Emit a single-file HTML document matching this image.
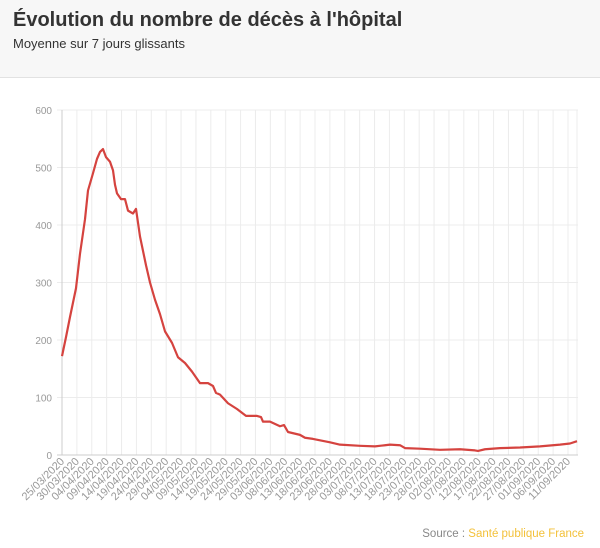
<!DOCTYPE html>
<html><head><meta charset="utf-8"><style>
body{margin:0;width:600px;height:548px;background:#fff;font-family:"Liberation Sans",sans-serif;overflow:hidden}
.hd{position:absolute;left:0;top:0;width:600px;height:77px;background:#f7f7f7;border-bottom:1px solid #e2e2e2}
.t{position:absolute;left:13px;top:9px;font-size:20px;font-weight:bold;color:#333}
.s{position:absolute;left:13px;top:36px;font-size:13px;color:#333}
svg{position:absolute;left:0;top:0}
</style></head><body>
<div class="hd"><div class="t">Évolution du nombre de décès à l'hôpital</div><div class="s">Moyenne sur 7 jours glissants</div></div>
<svg width="600" height="548" id="sv"></svg>
<script>
var s='',ns=document.getElementById('sv');
var X0=62,dx=506/34;
for(var i=0;i<=34;i++){var x=X0+i*dx;s+='<line x1="'+x+'" y1="110" x2="'+x+'" y2="455" stroke="#ececec"/>';}
s+='<line x1="577" y1="110" x2="577" y2="455" stroke="#ececec"/>';
for(var v=0;v<=600;v+=100){var y=455-v*0.575;s+='<line x1="57" y1="'+y+'" x2="578" y2="'+y+'" stroke="'+(v?'#ececec':'#ccc')+'"/><text x="52" y="'+(y+4)+'" text-anchor="end" font-size="10" fill="#999">'+v+'</text>';}
s+='<line x1="62" y1="110" x2="62" y2="455" stroke="#ccc"/>';
var d=new Date(2020,2,25);
for(var i=0;i<=34;i++){var x=X0+i*dx;var dd=new Date(d.getTime()+i*5*864e5);
var lab=('0'+dd.getDate()).slice(-2)+'/'+('0'+(dd.getMonth()+1)).slice(-2)+'/2020';
s+='<text transform="translate('+(x+3)+',462) rotate(-45)" text-anchor="end" font-size="11" fill="#999">'+lab+'</text>';}
var p=[[62,172],[66,205],[70,240],[76,290],[80,350],[85,410],[88,460],[93,490],[97,515],[100,527],[103,532],[106,518],[110,510],[113,495],[115,470],[117,455],[121,445],[125,445],[128,425],[133,420],[136,428],[140,380],[146,330],[150,300],[155,270],[160,245],[165,215],[172,195],[178,170],[185,160],[192,145],[200,125],[208,125],[213,120],[216,108],[220,105],[228,90],[237,80],[246,68],[257,68],[261,66],[263,58],[270,58],[280,50],[284,52],[288,40],[300,35],[305,30],[313,28],[330,22],[340,18],[360,16],[375,15],[385,17],[390,18],[400,17],[405,12],[420,11],[440,9],[460,10],[475,8],[478,7],[485,10],[500,12],[520,13],[540,15],[560,18],[570,20],[577,24]];
s+='<polyline fill="none" stroke="#d5433f" stroke-width="2.2" stroke-linejoin="round" points="'+p.map(function(q){return q[0]+','+(455-q[1]*0.575)}).join(' ')+'"/>';
s+='<text x="584" y="537" text-anchor="end" font-size="11.5" fill="#888">Source : <tspan fill="#f3c13a">Santé publique France</tspan></text>';
ns.innerHTML=s;
</script>
</body></html>
